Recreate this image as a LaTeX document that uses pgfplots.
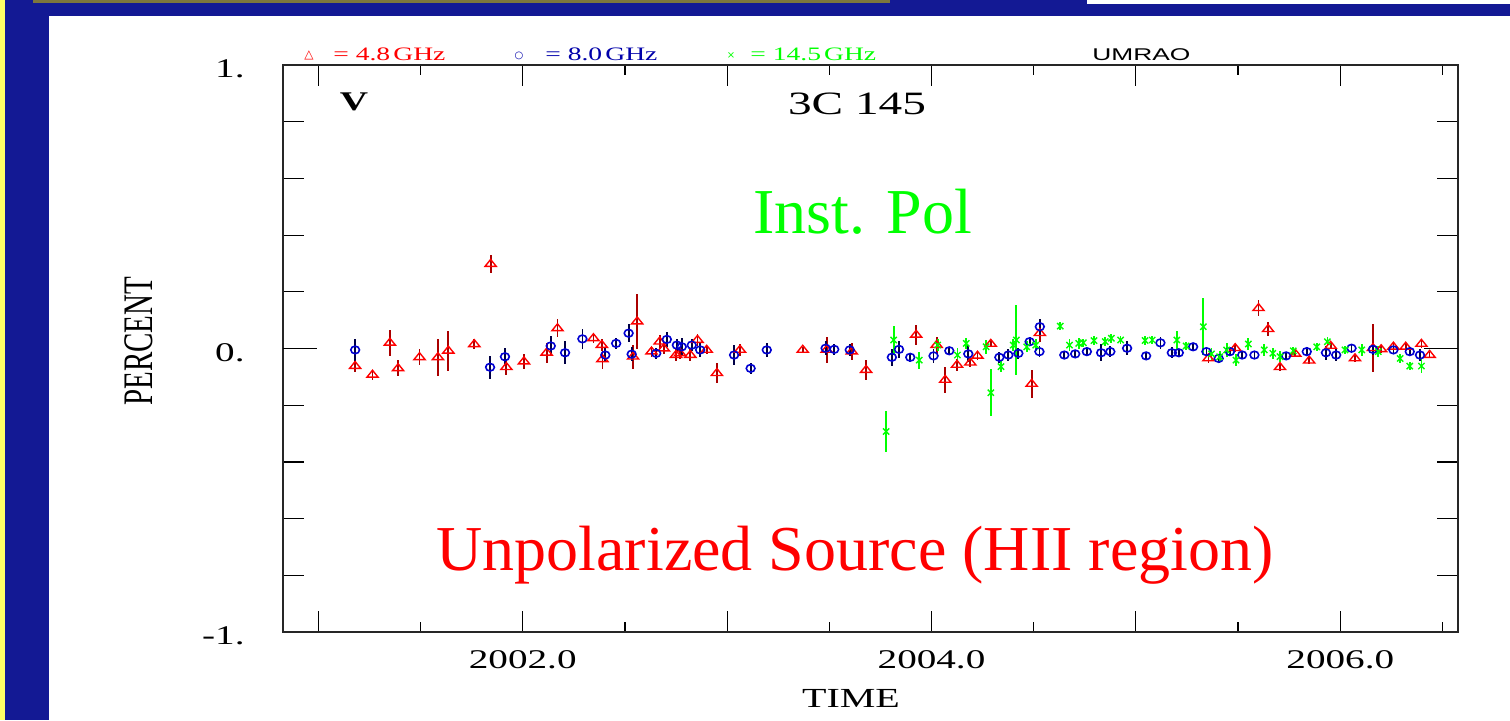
\documentclass[border=0pt]{standalone}
\usepackage{fontspec}
\setmainfont{Liberation Serif}
\newfontfamily\pgfont[FakeStretch=1.45]{Liberation Serif}
\newfontfamily\pgsans[FakeStretch=1.55]{Liberation Sans}
\newfontfamily\symfont{DejaVu Sans}
\usepackage{graphicx}
\usepackage{pgfplots}
\pgfplotsset{compat=1.18}
\usepackage{pgfplotstable}
\definecolor{navybg}{RGB}{19,25,148}
\definecolor{yellowstrip}{RGB}{255,255,102}
\definecolor{olivestrip}{RGB}{125,118,60}
\definecolor{ptred}{RGB}{255,0,0}
\definecolor{ptdarkred}{RGB}{170,0,0}
\definecolor{ptblue}{RGB}{0,0,210}
\definecolor{ptdarkblue}{RGB}{0,0,70}
\definecolor{ptgreen}{RGB}{0,255,0}
\definecolor{legblue}{RGB}{0,0,170}

\pgfplotstableread{
x y e
2001.18 -0.062 0.02
2001.265 -0.093 0.018
2001.35 0.02 0.045
2001.39 -0.07 0.028
2001.495 -0.031 0.028
2001.585 -0.031 0.065
2001.636 -0.008 0.07
2001.763 0.015 0.018
2001.843 0.298 0.032
2001.92 -0.066 0.028
2002.006 -0.046 0.025
2002.117 -0.015 0.035
2002.17 0.071 0.032
2002.346 0.036 0.018
2002.387 0.012 0.02
2002.39 -0.038 0.035
2002.54 -0.029 0.042
2002.56 0.095 0.097
2002.63 -0.011 0.02
2002.67 0.024 0.025
2002.69 0.0 0.02
2002.75 -0.023 0.02
2002.77 -0.017 0.02
2002.82 -0.023 0.02
2002.855 0.03 0.02
2002.90 -0.005 0.015
2002.95 -0.087 0.035
2003.063 -0.005 0.02
2003.37 -0.005 0.012
2003.487 -0.005 0.045
2003.61 -0.011 0.03
2003.68 -0.076 0.035
2003.925 0.048 0.035
2004.025 0.012 0.03
2004.067 -0.111 0.045
2004.125 -0.058 0.02
2004.19 -0.05 0.015
2004.225 -0.026 0.015
2004.29 0.016 0.012
2004.49 -0.125 0.05
2004.53 0.054 0.03
2005.355 -0.035 0.015
2005.486 0.001 0.015
2005.60 0.142 0.028
2005.647 0.068 0.025
2005.705 -0.066 0.012
2005.78 -0.019 0.012
2005.848 -0.043 0.012
2005.953 0.009 0.012
2006.072 -0.035 0.012
2006.16 0.001 0.084
2006.2 -0.003 0.012
2006.26 0.006 0.012
2006.32 0.006 0.012
2006.397 0.016 0.015
2006.437 -0.023 0.012
}\redtab

\pgfplotstableread{
x y e
2001.18 -0.005 0.04
2001.84 -0.066 0.04
2001.913 -0.029 0.03
2002.137 0.009 0.035
2002.207 -0.015 0.04
2002.292 0.034 0.035
2002.404 -0.023 0.025
2002.457 0.018 0.018
2002.518 0.054 0.032
2002.533 -0.02 0.025
2002.653 -0.017 0.02
2002.705 0.032 0.025
2002.754 0.012 0.02
2002.778 0.006 0.03
2002.827 0.012 0.02
2002.868 -0.005 0.025
2003.034 -0.023 0.035
2003.115 -0.07 0.02
2003.194 -0.005 0.025
2003.482 0.001 0.025
2003.524 -0.003 0.02
2003.60 -0.005 0.02
2003.806 -0.031 0.03
2003.841 -0.003 0.03
2003.896 -0.031 0.015
2004.01 -0.026 0.025
2004.087 -0.008 0.012
2004.18 -0.019 0.03
2004.332 -0.031 0.02
2004.376 -0.023 0.02
2004.425 -0.017 0.02
2004.48 0.024 0.015
2004.528 -0.011 0.02
2004.53 0.077 0.028
2004.65 -0.023 0.015
2004.703 -0.019 0.015
2004.76 -0.011 0.012
2004.83 -0.015 0.03
2004.875 -0.011 0.02
2004.957 0.001 0.025
2005.05 -0.026 0.015
2005.12 0.02 0.02
2005.176 -0.015 0.02
2005.21 -0.015 0.015
2005.28 0.006 0.015
2005.345 -0.011 0.015
2005.405 -0.035 0.015
2005.46 -0.011 0.015
2005.52 -0.023 0.012
2005.58 -0.023 0.012
2005.735 -0.026 0.015
2005.836 -0.011 0.015
2005.93 -0.015 0.025
2005.98 -0.023 0.02
2006.055 0.001 0.015
2006.16 -0.003 0.02
2006.26 -0.005 0.012
2006.34 -0.011 0.015
2006.39 -0.023 0.02
}\bluetab

\pgfplotstableread{
x y e
2003.778 -0.293 0.073
2003.815 0.03 0.05
2003.94 -0.041 0.03
2004.03 0.012 0.02
2004.127 -0.023 0.025
2004.17 0.018 0.02
2004.267 0.006 0.025
2004.29 -0.156 0.082
2004.34 -0.064 0.02
2004.40 0.012 0.02
2004.415 0.03 0.124
2004.466 0.006 0.02
2004.51 0.012 0.02
2004.63 0.079 0.015
2004.675 0.012 0.02
2004.72 0.018 0.02
2004.743 0.02 0.015
2004.795 0.028 0.015
2004.85 0.024 0.015
2004.88 0.036 0.015
2004.925 0.03 0.015
2005.045 0.028 0.015
2005.08 0.03 0.015
2005.20 0.03 0.03
2005.246 0.009 0.015
2005.33 0.077 0.1
2005.37 -0.019 0.02
2005.41 -0.029 0.02
2005.444 -0.005 0.025
2005.49 -0.041 0.02
2005.55 0.016 0.02
2005.628 -0.005 0.02
2005.67 -0.017 0.02
2005.705 -0.029 0.02
2005.77 -0.008 0.015
2005.885 0.006 0.015
2005.937 0.024 0.015
2006.023 -0.005 0.015
2006.105 -0.005 0.02
2006.186 -0.011 0.02
2006.293 -0.035 0.015
2006.34 -0.062 0.015
2006.397 -0.062 0.025
}\greentab

\begin{document}
\begin{tikzpicture}[x=0.5pt,y=0.5pt]
% slide background
\fill[navybg] (0,0) rectangle (1510,720);
\fill[yellowstrip] (0,0) rectangle (5,720);
\fill[olivestrip] (33,717) rectangle (890,720);
\fill[white] (1087,716) rectangle (1510,720);
\fill[white] (49,0) rectangle (1510,704);

\begin{axis}[
  at={(141.5pt,44pt)}, anchor=south west, scale only axis,
  width=587.5pt, height=283.5pt,
  xmin=2000.827, xmax=2006.576, ymin=-1, ymax=1,
  axis line style={line width=0.9pt, black!85},
  tick style={line width=0.6pt, black},
  tick align=inside,
  major tick length=10.5pt, minor tick length=5pt,
  xtick={2001,2002,2003,2004,2005,2006},
  xticklabels={,2002.0,,2004.0,,2006.0},
  minor xtick={2001.5,2002.5,2003.5,2004.5,2005.5,2006.5},
  ytick={-1,-0.8,-0.6,-0.4,-0.2,0,0.2,0.4,0.6,0.8,1},
  yticklabels={-1.,,,,,0.,,,,,1.},
  extra y ticks={0}, extra y tick labels={},
  extra y tick style={major tick length=17pt},
  ticklabel style={font=\fontsize{13.5}{14}\pgfont, inner sep=0pt},
  xticklabel style={anchor=base, yshift=-18pt},
  yticklabel style={anchor=east, xshift=-19pt, yshift=-2pt},
  xlabel={\fontsize{13.8}{14}\pgfont TIME},
  xlabel style={at={(axis description cs:0.4834,0)}, anchor=base, yshift=-37.5pt, inner sep=0pt},
  ylabel={\fontsize{14.5}{15}\selectfont\scalebox{1}[1.45]{PERCENT}},
  ylabel style={at={(axis description cs:-0.1226,0.513)}, anchor=center, inner sep=0pt},
]
\addplot[only marks, color=ptred, mark=triangle, mark size=2.3pt,
  mark options={xscale=1.4, line width=0.7pt},
  error bars/.cd, y dir=both, y explicit, error mark=none,
  error bar style={line width=0.9pt, color=ptdarkred}]
  table[x=x, y=y, y error=e] {\redtab};
\addplot[only marks, color=ptblue, mark=o, mark size=1.9pt,
  mark options={xscale=1.15, line width=0.8pt},
  error bars/.cd, y dir=both, y explicit, error mark=none,
  error bar style={line width=0.9pt, color=ptdarkblue}]
  table[x=x, y=y, y error=e] {\bluetab};
\addplot[only marks, color=ptgreen, mark=x, mark size=2.2pt,
  mark options={line width=0.7pt},
  error bars/.cd, y dir=both, y explicit, error mark=none,
  error bar style={line width=0.9pt, color=ptgreen}]
  table[x=x, y=y, y error=e] {\greentab};
\end{axis}

% header legend row
\node[anchor=base, text=ptred, inner sep=0pt] at (309,662) {\symfont\fontsize{6}{6}\selectfont △};
\node[anchor=base west, text=ptred, inner sep=0pt] at (333,660) {\fontsize{9.5}{10}\pgfont = 4.8\,GHz};
\node[anchor=base, text=legblue, inner sep=0pt] at (519,662) {\symfont\fontsize{5}{5}\selectfont ○};
\node[anchor=base west, text=legblue, inner sep=0pt] at (545,660) {\fontsize{9.5}{10}\pgfont = 8.0\,GHz};
\node[anchor=base, text=ptgreen, inner sep=0pt] at (731,662) {\symfont\fontsize{5}{6}\selectfont ×};
\node[anchor=base west, text=ptgreen, inner sep=0pt] at (750,660) {\fontsize{9.5}{10}\pgfont = 14.5\,GHz};
\node[anchor=base west, text=black, inner sep=0pt] at (1092,660) {\fontsize{8.5}{9}\pgsans UMRAO};

% titles inside the frame
\node[anchor=base, inner sep=0pt] at (857,606) {\fontsize{16.3}{17}\pgfont 3C 145};
\node[anchor=base, inner sep=0pt] at (354,610) {\fontsize{13.5}{14}\pgfont\bfseries V};

% slide annotations
\node[anchor=base, text=ptgreen, inner sep=0pt] at (863,487) {\fontsize{32}{34}\selectfont Inst. Pol};
\node[anchor=base, text=ptred, inner sep=0pt] at (855,150) {\fontsize{32}{34}\selectfont Unpolarized Source (HII region)};
\end{tikzpicture}
\end{document}
